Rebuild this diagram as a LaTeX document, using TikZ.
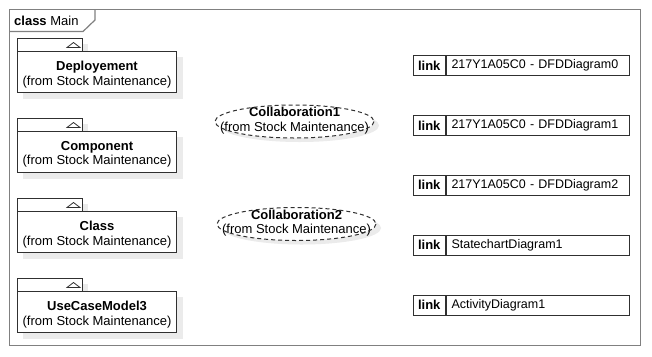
\documentclass[tikz,border=0pt]{standalone}
\usepackage{fontspec}
\setmainfont{Liberation Sans}
\usetikzlibrary{calc}
\definecolor{framecol}{HTML}{808080}
\definecolor{boxcol}{HTML}{303030}
\definecolor{shadecol}{HTML}{EBEBEB}
\begin{document}
\begin{tikzpicture}[x=1bp,y=-1bp,
  font=\fontsize{13bp}{14.5bp}\selectfont,
  pkgbody/.style={draw=boxcol, line width=1bp, fill=white, minimum width=159bp,
    minimum height=41bp, align=center, inner sep=0pt},
  pkgtab/.style={draw=boxcol, line width=1bp, fill=white, minimum width=64.5bp,
    minimum height=13bp, inner sep=0pt},
  pkgtext/.style={align=center, inner sep=0pt},
  collabtext/.style={align=center, inner sep=0pt},
  collabline/.style={draw=boxcol, line width=1bp, dash pattern=on 4bp off 3bp},
  linkkey/.style={draw=boxcol, line width=1bp, fill=white, minimum width=32.5bp,
    minimum height=20bp, inner sep=0pt},
  linkval/.style={draw=boxcol, line width=1bp, fill=white, minimum width=183bp,
    minimum height=20bp, inner xsep=5bp, inner ysep=0pt, text width=173bp, align=left,
    font=\fontsize{12.5bp}{14.5bp}\selectfont},
  shade/.style={fill=shadecol, draw=none}
]
% canvas
\useasboundingbox (0,0) rectangle (652,356);
\fill[white] (0,0) rectangle (652,356);

% diagram frame with its name tab
\draw[framecol, line width=1.2bp] (9.5,9.5) rectangle (640.5,345.5);
\draw[framecol, line width=1.2bp] (9.5,31.5) -- (83,31.5) -- (95,20) -- (95,9.5);
\node[anchor=west, inner sep=0pt] (title) at (14,20.5) {\textbf{class} Main};

% packages
\foreach \nm/\lbl/\y in {dep/Deployement/51, comp/Component/131, cls/Class/211, uc/UseCaseModel3/291}{
  \fill[shade] (23,\y-7) rectangle (88,\y+6);
  \fill[shade] (23,\y+6) rectangle (183,\y+47.5);
  \node[pkgtab, anchor=north west] (\nm-tab) at (17,\y-13) {};
  \node[pkgbody, anchor=north west] (\nm) at (17,\y) {};
  \node[pkgtext] (\nm-label) at ($(\nm.center)+(0,2.5)$)
    {\textbf{\lbl}\\(from Stock Maintenance)};
  \draw[boxcol, line width=0.8bp] ($(\nm-tab.east)+(-15.5,2.5)$) -- ++(13,0) -- ++(-6.5,-5) -- cycle;
}

% collaborations
\foreach \nm/\lbl/\cx/\cy in {col1/Collaboration1/294.5/121.5, col2/Collaboration2/296.5/224}{
  \fill[shade] (\cx+5,\cy+4) ellipse [x radius=79.5, y radius=16.5];
  \fill[white] (\cx,\cy) ellipse [x radius=79.5, y radius=16.5];
  \node[collabtext] (\nm) at (\cx,\cy-1) {\textbf{\lbl}\\(from Stock Maintenance)};
  \draw[collabline] (\cx,\cy) ellipse [x radius=79.5, y radius=16.5];
}

% diagram links
\foreach \nm/\lbl/\y in {l0/217Y1A05C0 - DFDDiagram0/55, l1/217Y1A05C0 - DFDDiagram1/115,
    l2/217Y1A05C0 - DFDDiagram2/174.5, l3/StatechartDiagram1/234.5, l4/ActivityDiagram1/294.5}{
  \node[linkkey, anchor=north west] (\nm-key) at (412.5,\y) {\textbf{link}};
  \node[linkval, anchor=west] (\nm) at (\nm-key.east) {\mbox{\lbl}};
}
\end{tikzpicture}
\end{document}
